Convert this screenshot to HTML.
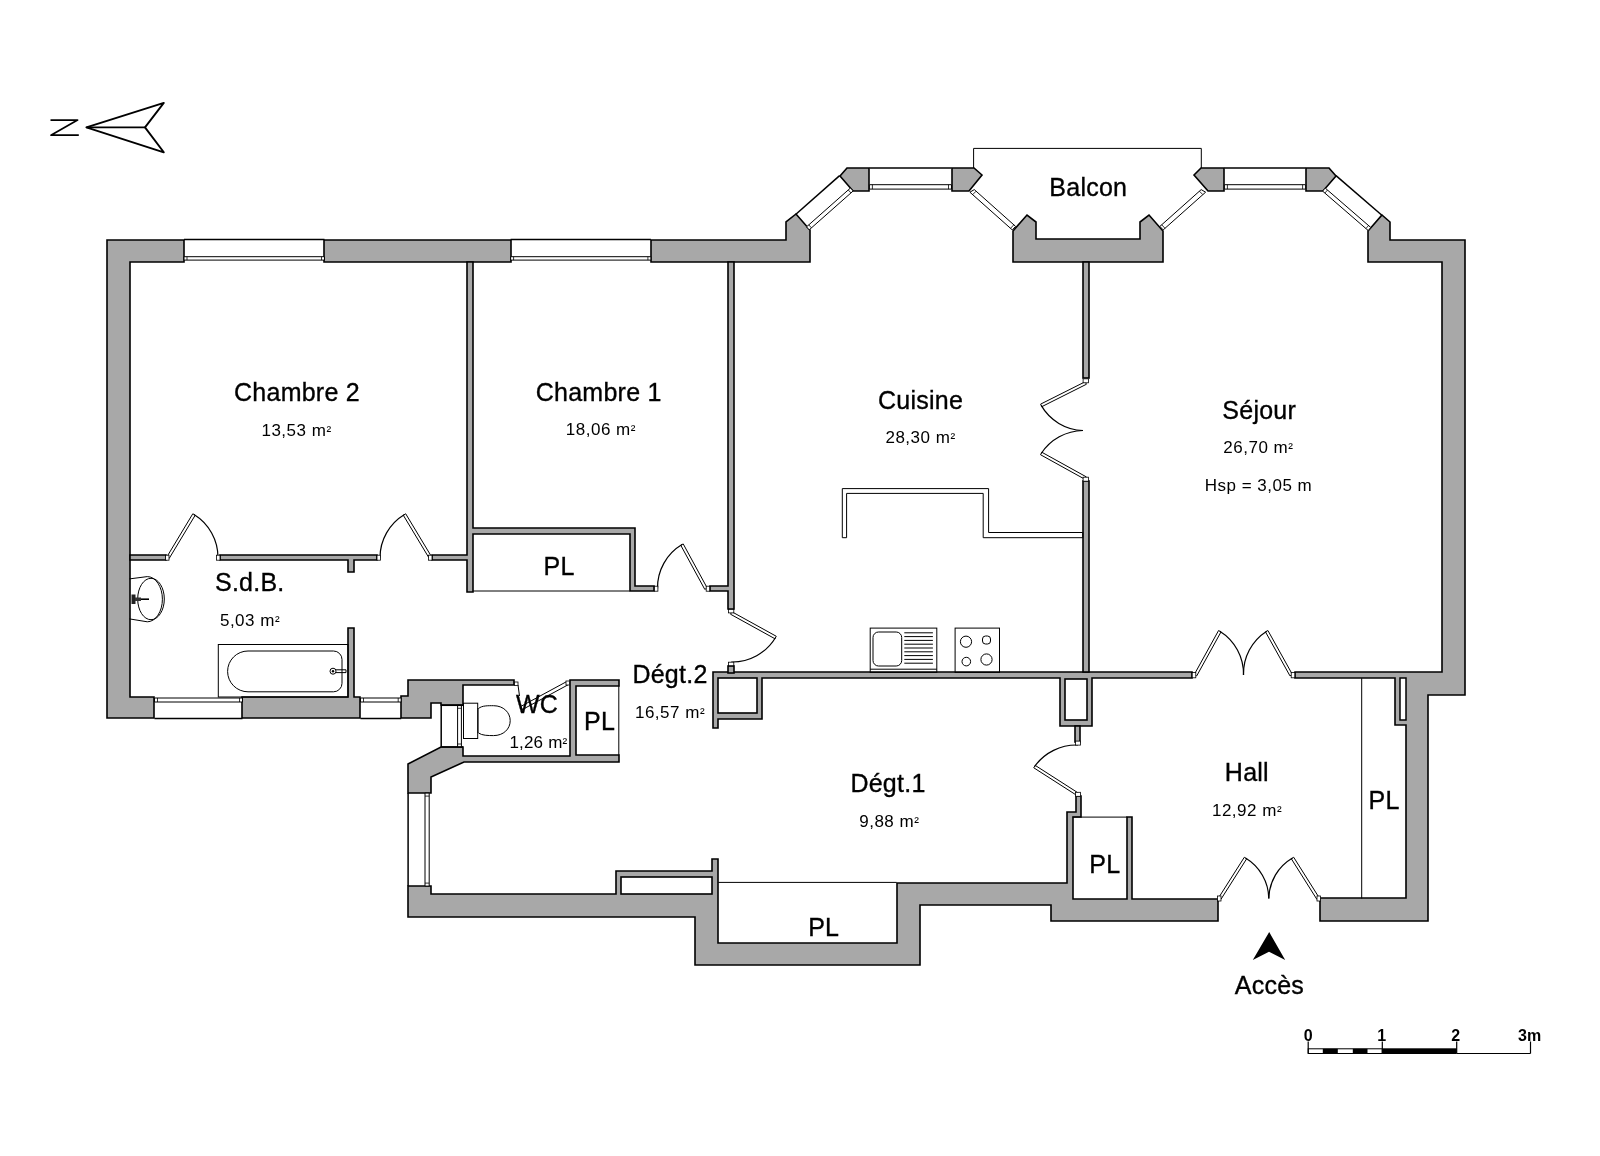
<!DOCTYPE html>
<html><head><meta charset="utf-8"><title>Plan</title>
<style>
html,body{margin:0;padding:0;background:#fff;width:1600px;height:1156px;overflow:hidden}
svg{display:block;will-change:transform}
.w{fill:#a8a8a8;stroke:#000;stroke-width:1.6;stroke-linejoin:miter}
.p{fill:#a8a8a8;stroke:#000;stroke-width:1.6;stroke-linejoin:miter}
.t{fill:none;stroke:#000;stroke-width:1}
.g{fill:#fff;stroke:#000;stroke-width:1}
.lf{fill:#fff;stroke:#000;stroke-width:1}
.arc{fill:none;stroke:#000;stroke-width:1.2}
text{font-family:"Liberation Sans",sans-serif;fill:#000;text-anchor:middle}
.n{font-size:25px;letter-spacing:0.25px;stroke:#000;stroke-width:0.35}
.a{font-size:17px;letter-spacing:0.5px}
</style></head>
<body>
<svg width="1600" height="1156" viewBox="0 0 1600 1156">
<!-- WALLS -->
<g id="walls">
<!-- left outer wall -->
<polygon class="w" points="107,240 184,240 184,262 130,262 130,697 154,697 154,718 107,718"/>
<!-- top wall between windows -->
<polygon class="w" points="324,240 511,240 511,262 324,262"/>
<polygon class="w" points="651,240 786,240 786,222 796,214 810,230 810,262 651,262"/>
<polygon class="w" points="840,176 847,168 869,168 869,191 853,191"/>
<polygon class="w" points="952,168 974,168 982,175 969,191 952,191"/>
<polygon class="w" points="1013,231 1027,215 1036,222 1036,239 1140,239 1140,222 1149,215 1163,231 1163,262 1013,262"/>
<polygon class="w" points="1194,175 1201,168 1224,168 1224,191 1208,191"/>
<polygon class="w" points="1306,168 1329,168 1336,176 1323,191 1306,191"/>
<polygon class="w" points="1382,215 1390,222 1390,240 1465,240 1465,695 1428,695 1428,921 1320,921 1320,898 1406,898 1406,725 1395,725 1395,678 1295,678 1295,672 1442,672 1442,262 1368,262 1368,231"/>
<rect class="g" x="1400" y="678" width="6" height="42" style="stroke-width:1.5"/>
<!-- SdB bottom wall -->
<polygon class="w" points="242,697 348,697 348,628 354,628 354,697 360,697 360,718 242,718"/>
<!-- WC upper block -->
<polygon class="w" points="401,696 408,696 408,680 514,680 514,685 463,685 463,705 441,705 441,703 431,703 431,718 401,718"/>
<!-- WC lower diagonal -->
<polygon class="w" points="408,764 441,747 463,747 463,756 570,756 570,680 619,680 619,686 576,686 576,755 619,755 619,762 464,762 431,777 431,793 408,793"/>
<!-- bottom big wall -->
<polygon class="w" points="408,886 431,886 431,894 616,894 616,871 712,871 712,859 718,859 718,943 897,943 897,883 1067,883 1067,812 1076,812 1076,796 1081,796 1081,817 1073,817 1073,899 1127,899 1127,817 1132,817 1132,899 1218,899 1218,921 1051,921 1051,905 920,905 920,965 695,965 695,917 408,917"/>
<rect class="w" x="621" y="877" width="91" height="17" style="fill:#fff"/>
<!-- partitions -->
<polygon class="p" points="467,262 473,262 473,528 635,528 635,586 654,586 654,591 630,591 630,534 473,534 473,592 467,592 467,560 432,560 432,555 467,555"/>
<polygon class="p" points="130,555 166,555 166,560 130,560"/>
<polygon class="p" points="220,555 377,555 377,560 354,560 354,572 348,572 348,560 220,560"/>
<polygon class="p" points="728,262 734,262 734,609 728,609 728,591 710,591 710,586 728,586"/>
<polygon class="p" points="713,672 1192,672 1192,678 1092,678 1092,726 1060,726 1060,678 762,678 762,719 718,719 718,728 713,728"/>
<rect class="g" x="718" y="678" width="39" height="35" style="stroke-width:1.6"/>
<rect class="g" x="1065" y="679" width="22" height="41" style="stroke-width:1.6"/>
<rect class="p" x="728" y="666" width="6" height="7"/>
<rect class="p" x="1075" y="726" width="5" height="16"/>
<rect class="p" x="1083" y="262" width="6" height="116"/>
<rect class="p" x="1083" y="481" width="6" height="191"/>
</g>
<g id="windows">
<line class="t" x1="184" y1="239.5" x2="324.5" y2="239.5" style="stroke-width:1.5"/>
<polygon class="g" points="184,256.7 324.5,256.7 324.5,260.1 184,260.1"/>
<line class="t" x1="187" y1="256.7" x2="187" y2="260.1" style="stroke-width:0.8"/>
<line class="t" x1="321.5" y1="256.7" x2="321.5" y2="260.1" style="stroke-width:0.8"/>
<line class="t" x1="510.6" y1="239.5" x2="650.9" y2="239.5" style="stroke-width:1.5"/>
<polygon class="g" points="510.6,256.7 650.9,256.7 650.9,260.1 510.6,260.1"/>
<line class="t" x1="513.6" y1="256.7" x2="513.6" y2="260.1" style="stroke-width:0.8"/>
<line class="t" x1="647.9" y1="256.7" x2="647.9" y2="260.1" style="stroke-width:0.8"/>
<line class="t" x1="869.4" y1="168.1" x2="951.5" y2="168.1" style="stroke-width:1.5"/>
<polygon class="g" points="869.4,184.7 951.5,184.7 951.5,189.1 869.4,189.1"/>
<line class="t" x1="872.4" y1="184.7" x2="872.4" y2="189.1" style="stroke-width:0.8"/>
<line class="t" x1="948.5" y1="184.7" x2="948.5" y2="189.1" style="stroke-width:0.8"/>
<line class="t" x1="1224.4" y1="168.1" x2="1305.6" y2="168.1" style="stroke-width:1.5"/>
<polygon class="g" points="1224.4,184.7 1305.6,184.7 1305.6,189.1 1224.4,189.1"/>
<line class="t" x1="1227.4" y1="184.7" x2="1227.4" y2="189.1" style="stroke-width:0.8"/>
<line class="t" x1="1302.6" y1="184.7" x2="1302.6" y2="189.1" style="stroke-width:0.8"/>
<line class="t" x1="795.6" y1="214.5" x2="839.6" y2="175.6" style="stroke-width:1.5"/>
<polygon class="g" points="806.53,226.86 850.53,187.96 853.18,190.96 809.18,229.86"/>
<line class="t" x1="808.78" y1="224.87" x2="811.43" y2="227.87" style="stroke-width:0.8"/>
<line class="t" x1="848.28" y1="189.95" x2="850.93" y2="192.95" style="stroke-width:0.8"/>
<line class="t" x1="1336" y1="175.6" x2="1381.6" y2="215" style="stroke-width:1.5"/>
<polygon class="g" points="1325.21,188.09 1370.81,227.49 1368.2,230.51 1322.6,191.11"/>
<line class="t" x1="1327.48" y1="190.05" x2="1324.87" y2="193.07" style="stroke-width:0.8"/>
<line class="t" x1="1368.54" y1="225.52" x2="1365.93" y2="228.55" style="stroke-width:0.8"/>
<polygon class="g" points="974.3,189.6 1015.6,226.4 1012.3,229.9 969.9,192.2"/>
<polygon class="g" points="1201.2,189.6 1159.9,226.4 1163.2,229.9 1205.6,192.2"/>
<line class="t" x1="976.1" y1="191.2" x2="972.7" y2="194.6" style="stroke-width:0.8"/>
<line class="t" x1="1013.8" y1="224.8" x2="1010.5" y2="228.3" style="stroke-width:0.8"/>
<line class="t" x1="1199.4" y1="191.2" x2="1202.8" y2="194.6" style="stroke-width:0.8"/>
<line class="t" x1="1161.7" y1="224.8" x2="1165" y2="228.3" style="stroke-width:0.8"/>
<line class="t" x1="154.5" y1="718.5" x2="242.5" y2="718.5" style="stroke-width:1.5"/>
<polygon class="g" points="154.5,702 242.5,702 242.5,698 154.5,698"/>
<line class="t" x1="157.5" y1="702" x2="157.5" y2="698" style="stroke-width:0.8"/>
<line class="t" x1="239.5" y1="702" x2="239.5" y2="698" style="stroke-width:0.8"/>
<line class="t" x1="360.5" y1="718.5" x2="401.2" y2="718.5" style="stroke-width:1.5"/>
<polygon class="g" points="360.5,702 401.2,702 401.2,698 360.5,698"/>
<line class="t" x1="363.5" y1="702" x2="363.5" y2="698" style="stroke-width:0.8"/>
<line class="t" x1="398.2" y1="702" x2="398.2" y2="698" style="stroke-width:0.8"/>
<line class="t" x1="408.1" y1="793.1" x2="408.1" y2="886.1" style="stroke-width:1.5"/>
<polygon class="g" points="425,793.1 425,886.1 429.2,886.1 429.2,793.1"/>
<line class="t" x1="425" y1="796.1" x2="429.2" y2="796.1" style="stroke-width:0.8"/>
<line class="t" x1="425" y1="883.1" x2="429.2" y2="883.1" style="stroke-width:0.8"/>
<line class="t" x1="441.2" y1="705.3" x2="441.2" y2="747" style="stroke-width:1.5"/>
<polygon class="g" points="457.6,705.3 457.6,747 461.4,747 461.4,705.3"/>
<line class="t" x1="457.6" y1="708.3" x2="461.4" y2="708.3" style="stroke-width:0.8"/>
<line class="t" x1="457.6" y1="744" x2="461.4" y2="744" style="stroke-width:0.8"/>
<line class="t" x1="441.2" y1="705.3" x2="463" y2="705.3" style="stroke-width:1.5"/>
<line class="t" x1="441.2" y1="747" x2="463" y2="747" style="stroke-width:1.5"/>
<polyline class="t" points="973.6,168 973.6,148.4 1201.3,148.4 1201.3,168"/>

</g>
<g id="doors">
<polygon class="lf" points="166.8,556.98 192.8,513.78 195.2,515.22 169.2,558.42"/>
<path class="arc" d="M194,514.5 A50.42,50.42 0 0 1 218,557.7"/>
<rect class="g" x="165.5" y="555.2" width="3.5" height="5" style="stroke-width:0.8"/>
<rect class="g" x="216.5" y="555.2" width="3.5" height="5" style="stroke-width:0.8"/>
<polygon class="lf" points="429.3,558.42 403.3,515.22 405.7,513.78 431.7,556.98"/>
<path class="arc" d="M404.5,514.5 A50.42,50.42 0 0 0 380,557.7"/>
<rect class="g" x="377" y="555.2" width="3.5" height="5" style="stroke-width:0.8"/>
<rect class="g" x="428.5" y="555.2" width="3.5" height="5" style="stroke-width:0.8"/>
<polygon class="lf" points="704.77,589.37 680.77,545.27 683.23,543.93 707.23,588.03"/>
<path class="arc" d="M682,544.6 A50.21,50.21 0 0 0 657.5,588.7"/>
<rect class="g" x="654.4" y="586.2" width="3.5" height="5" style="stroke-width:0.8"/>
<rect class="g" x="706.2" y="586.2" width="3.5" height="5" style="stroke-width:0.8"/>
<polygon class="lf" points="731.88,611.77 776.28,636.27 774.92,638.73 730.52,614.23"/>
<path class="arc" d="M775.6,637.5 A50.71,50.71 0 0 1 731.2,662"/>
<rect class="g" x="728.5" y="609.4" width="5.3" height="3.5" style="stroke-width:0.8"/>
<rect class="g" x="728.5" y="662.2" width="5.3" height="3.5" style="stroke-width:0.8"/>
<polygon class="lf" points="1086.43,384.25 1041.83,406.65 1040.57,404.15 1085.17,381.75"/>
<path class="arc" d="M1041.2,405.4 A49.91,49.91 0 0 0 1083,430.5"/>
<polygon class="lf" points="1085.12,479.42 1040.52,454.72 1041.88,452.28 1086.48,476.98"/>
<path class="arc" d="M1041.2,453.5 A50.98,50.98 0 0 1 1083,430.5"/>
<rect class="g" x="1083.1" y="378.8" width="5.4" height="4" style="stroke-width:0.8"/>
<rect class="g" x="1083.1" y="477.2" width="5.4" height="4" style="stroke-width:0.8"/>
<polygon class="lf" points="1194.27,674.52 1218.57,630.52 1221.03,631.88 1196.73,675.88"/>
<path class="arc" d="M1219.8,631.2 A50.26,50.26 0 0 1 1243.5,675"/>
<polygon class="lf" points="1289.98,675.88 1265.48,631.88 1267.92,630.52 1292.42,674.52"/>
<path class="arc" d="M1266.7,631.2 A50.36,50.36 0 0 0 1243.5,675"/>
<rect class="g" x="1192.2" y="672.6" width="3.6" height="5.2" style="stroke-width:0.8"/>
<rect class="g" x="1291.2" y="672.6" width="3.6" height="5.2" style="stroke-width:0.8"/>
<polygon class="lf" points="1077.24,795.68 1033.74,767.78 1035.26,765.42 1078.76,793.32"/>
<path class="arc" d="M1034.5,766.6 A51.68,51.68 0 0 1 1078,745"/>
<rect class="g" x="1075.6" y="741.1" width="4.9" height="4" style="stroke-width:0.8"/>
<rect class="g" x="1075.6" y="792.3" width="4.9" height="4" style="stroke-width:0.8"/>
<polygon class="lf" points="1218.62,897.75 1244.32,857.25 1246.68,858.75 1220.98,899.25"/>
<path class="arc" d="M1245.5,858 A47.97,47.97 0 0 1 1268.8,898.5"/>
<polygon class="lf" points="1316.82,899.25 1291.32,858.75 1293.68,857.25 1319.18,897.75"/>
<path class="arc" d="M1292.5,858 A47.86,47.86 0 0 0 1268.8,898.5"/>
<rect class="g" x="1217.5" y="896" width="3.5" height="5" style="stroke-width:0.8"/>
<rect class="g" x="1317" y="896" width="3.5" height="5" style="stroke-width:0.8"/>
<polygon class="lf" points="566.8,681.5 568.6,684.5 522.5,709.5 520.7,706.5"/>
<line class="t" x1="518" y1="685" x2="519.5" y2="696"/>
<rect class="g" x="514.5" y="682" width="3.5" height="3.5" style="stroke-width:0.8"/>
<rect class="g" x="566" y="681" width="3.5" height="4" style="stroke-width:0.8"/>

</g>
<g id="thin">
<line class="t" x1="472.75" y1="591" x2="629.6" y2="591"/>
<line class="t" x1="618.8" y1="685.5" x2="618.8" y2="755.3"/>
<line class="t" x1="1072.6" y1="817.1" x2="1127.2" y2="817.1"/>
<line class="t" x1="718.3" y1="882.4" x2="896.6" y2="882.4"/>
<line class="t" x1="1361.7" y1="678.2" x2="1361.7" y2="898.5"/>
</g>
<g id="fixtures">
<!-- bathtub -->
<rect class="t" x="218.3" y="644.5" width="129.7" height="52.5"/>
<path class="t" d="M248,651 H333.5 A8.5,8.5 0 0 1 342,659.5 V683.3 A8.5,8.5 0 0 1 333.5,691.8 H248 A20.4,20.4 0 0 1 248,651 Z"/>
<circle class="t" cx="333" cy="671.2" r="3"/>
<circle cx="333" cy="671.2" r="1.2" fill="#000"/>
<polyline class="t" points="336,669.8 346,669.8 346,672.6 336,672.6"/>
<!-- sink -->
<path class="t" d="M129.5,578.9 L147.3,576.6 A15.1,22.6 0 0 1 147.3,621.8 L129.5,618.9"/>
<ellipse class="t" cx="151" cy="599" rx="13.3" ry="20.7"/>
<rect x="131.5" y="594.5" width="4" height="9.5" fill="#222"/>
<rect x="135" y="597.5" width="6" height="3.5" fill="#333"/>
<line class="t" x1="141" y1="599.2" x2="149" y2="599.2" style="stroke-width:1.6"/>
<!-- toilet -->
<rect class="t" x="463.5" y="703.2" width="14.2" height="35.3"/>
<path class="t" d="M478.5,708.5 C482,705.5 488,705.7 493.5,705.7 C503.5,705.7 510.2,712.5 510.2,720.7 C510.2,729 503.5,735.6 493.5,735.6 C488,735.6 482,735.5 478.5,733"/>
<line class="t" x1="478" y1="708" x2="478" y2="733"/>
<!-- counter -->
<polygon class="t" points="842.3,537.7 842.3,488.6 988.6,488.6 988.6,532.5 1082.8,532.5 1082.8,537.7 983.2,537.7 983.2,493.4 846.6,493.4 846.6,537.7"/>
<!-- kitchen sink -->
<rect class="t" x="870.2" y="628.1" width="66.6" height="44.3"/>
<rect class="t" x="873" y="632" width="28.7" height="34" rx="5.5"/>
<g class="t">
<line x1="904.3" y1="632.8" x2="932.9" y2="632.8"/><line x1="904.3" y1="636.6" x2="932.9" y2="636.6"/>
<line x1="904.3" y1="640.4" x2="932.9" y2="640.4"/><line x1="904.3" y1="644.2" x2="932.9" y2="644.2"/>
<line x1="904.3" y1="648" x2="932.9" y2="648"/><line x1="904.3" y1="651.8" x2="932.9" y2="651.8"/>
<line x1="904.3" y1="655.6" x2="932.9" y2="655.6"/><line x1="904.3" y1="659.4" x2="932.9" y2="659.4"/>
<line x1="904.3" y1="663.2" x2="932.9" y2="663.2"/>
<line x1="870.2" y1="669.2" x2="936.8" y2="669.2"/>
</g>
<!-- stove -->
<rect class="t" x="955.1" y="628.1" width="44.4" height="44.3"/>
<circle class="t" cx="966" cy="641.7" r="5.6"/>
<rect class="t" x="982.5" y="636" width="8" height="8" rx="3"/>
<circle class="t" cx="966.3" cy="661.6" r="4.3"/>
<circle class="t" cx="986.5" cy="659.5" r="5.6"/>
</g>

<g id="text">
<text class="n" x="297" y="401">Chambre 2</text>
<text class="a" x="296.5" y="435.5">13,53 m<tspan style="font-size:14px">²</tspan></text>
<text class="n" x="598.7" y="401">Chambre 1</text>
<text class="a" x="600.9" y="434.8">18,06 m<tspan style="font-size:14px">²</tspan></text>
<text class="n" x="920.6" y="409.3">Cuisine</text>
<text class="a" x="920.5" y="443.2">28,30 m<tspan style="font-size:14px">²</tspan></text>
<text class="n" x="1259.2" y="419.1">Séjour</text>
<text class="a" x="1258.4" y="453">26,70 m<tspan style="font-size:14px">²</tspan></text>
<text class="a" x="1258.5" y="490.7">Hsp = 3,05 m</text>
<text class="n" x="1088.3" y="196.3">Balcon</text>
<text class="n" x="249.75" y="590.75">S.d.B.</text>
<text class="a" x="250" y="625.5">5,03 m<tspan style="font-size:14px">²</tspan></text>
<text class="n" x="559" y="575.4">PL</text>
<text class="n" x="670" y="682.7">Dégt.2</text>
<text class="a" x="670" y="717.8">16,57 m<tspan style="font-size:14px">²</tspan></text>
<text class="n" x="537" y="712.8">WC</text>
<text class="a" x="538.4" y="747.6" style="letter-spacing:0.2px">1,26 m<tspan style="font-size:14px">²</tspan></text>
<text class="n" x="599.6" y="729.8">PL</text>
<text class="n" x="888" y="792.2">Dégt.1</text>
<text class="a" x="889.3" y="826.8">9,88 m<tspan style="font-size:14px">²</tspan></text>
<text class="n" x="823.7" y="936.1">PL</text>
<text class="n" x="1246.9" y="781.25">Hall</text>
<text class="a" x="1247" y="816.25">12,92 m<tspan style="font-size:14px">²</tspan></text>
<text class="n" x="1384" y="808.75">PL</text>
<text class="n" x="1104.75" y="873.25">PL</text>
<text class="n" x="1269.4" y="993.75">Accès</text>
</g>
<g id="symbols">
<polyline class="t" style="stroke-width:1.7;stroke-linejoin:round" points="50.5,120.1 77.6,120.1 50.9,135.2 78.8,135.2"/>
<polygon style="fill:none;stroke:#000;stroke-width:1.9;stroke-linejoin:round" points="86.4,127.4 163.8,102.9 145,127.4 163.8,152.3"/>
<line class="t" style="stroke-width:1.6" x1="86.4" y1="127.4" x2="145" y2="127.4"/>
<polygon fill="#000" points="1269.2,932 1285.2,960 1269,951.8 1252.8,960"/>
<!-- scale bar -->
<g style="stroke:#000;fill:none">
<line x1="1308.2" y1="1041.5" x2="1308.2" y2="1053.5" stroke-width="1.2"/>
<line x1="1382.3" y1="1041.5" x2="1382.3" y2="1053.5" stroke-width="1.2"/>
<line x1="1456.7" y1="1041.5" x2="1456.7" y2="1053.5" stroke-width="1.2"/>
<line x1="1530.5" y1="1041.5" x2="1530.5" y2="1053.5" stroke-width="1.2"/>
<rect x="1308.2" y="1048.8" width="74.1" height="4.7" stroke-width="1"/>
<line x1="1456.7" y1="1053.5" x2="1530.5" y2="1053.5" stroke-width="1"/>
</g>
<rect x="1322.8" y="1048.8" width="15" height="4.7" fill="#000"/>
<rect x="1352.8" y="1048.8" width="14.7" height="4.7" fill="#000"/>
<rect x="1382.3" y="1048.3" width="74.4" height="5.7" fill="#000"/>
<g style="font-size:16px;font-weight:bold">
<text x="1308.2" y="1041.2">0</text>
<text x="1381.7" y="1041.2">1</text>
<text x="1455.6" y="1041.2">2</text>
<text x="1529.6" y="1041.2">3m</text>
</g>
</g>

</svg>
</body></html>
